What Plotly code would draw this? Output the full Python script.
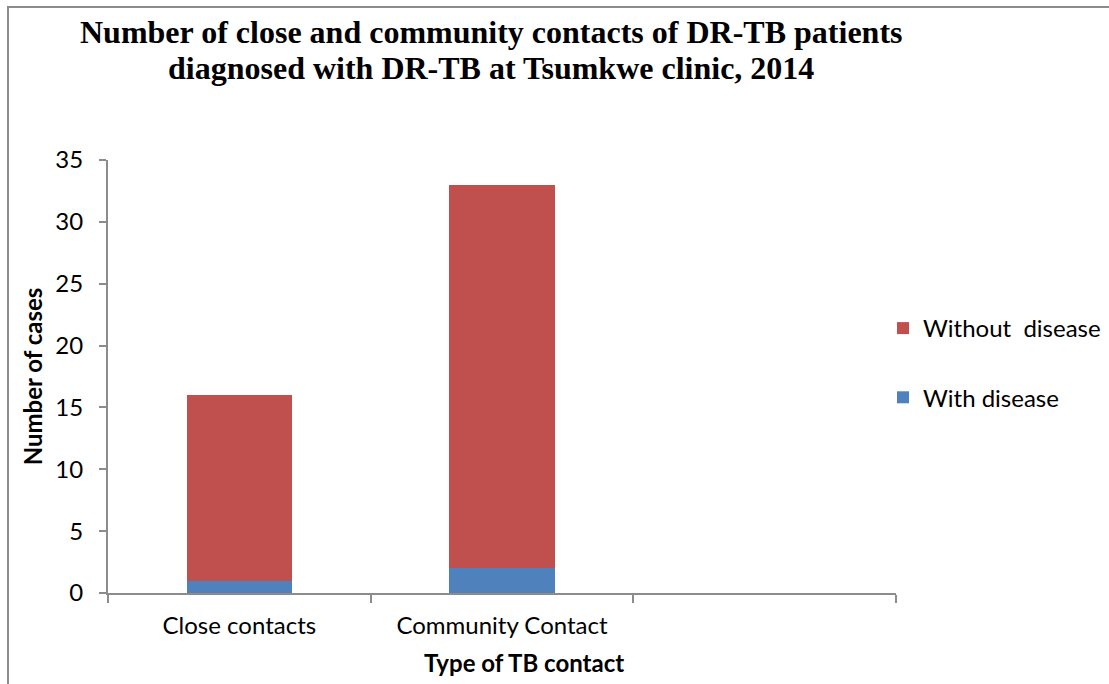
import plotly.graph_objects as go

# Contact types (third slot is left empty on the axis)
categories = ["Close contacts", "Community Contact", " "]
with_disease = [1, 2, None]
without_disease = [15, 31, None]

title_lines = [
    "Number of close and community contacts of DR-TB patients",
    "diagnosed with DR-TB at Tsumkwe clinic, 2014",
]

RED = "#C0504D"
BLUE = "#4F81BD"
AXIS = "#8C8C8C"
SANS = "Lato, 'Open Sans', sans-serif"
SERIF = "'Liberation Serif', 'Times New Roman', serif"

W, H = 1109, 684
L, R, T, B = 108, 896, 160, 593


def px_x(p):
    return (p - L) / (R - L)


def px_y(p):
    return (B - p) / (B - T)


fig = go.Figure()
fig.add_trace(go.Bar(
    x=categories, y=with_disease, name="With disease",
    marker=dict(color=BLUE, line=dict(width=0)),
    legendgroup="a", legendrank=2,
))
fig.add_trace(go.Bar(
    x=categories, y=without_disease, name="Without  disease",
    marker=dict(color=RED, line=dict(width=0)),
    legendgroup="b", legendrank=1,
))

fig.update_layout(
    width=W, height=H,
    margin=dict(l=L, r=W - R, t=T, b=H - B, pad=0, autoexpand=False),
    paper_bgcolor="white", plot_bgcolor="white",
    barmode="stack", bargap=0.6,
    font=dict(family=SANS, size=24, color="black"),
    legend=dict(
        x=px_x(883), xref="paper", xanchor="left",
        y=px_y(306), yref="paper", yanchor="top",
        traceorder="grouped", tracegroupgap=35,
        font=dict(family=SANS, size=24, color="black"),
        bgcolor="rgba(0,0,0,0)",
    ),
    showlegend=True,
)

# Two-line bold serif heading
for line, yc in zip(title_lines, [32, 68]):
    fig.add_annotation(
        text=f"<b>{line}</b>", showarrow=False,
        xref="paper", yref="paper", x=px_x(491), y=px_y(yc),
        xanchor="center", yanchor="middle",
        font=dict(family=SERIF, size=32, color="black"),
    )

# Horizontal axis title
fig.add_annotation(
    text="<b>Type of TB contact</b>", showarrow=False,
    xref="paper", yref="paper", x=px_x(524), y=px_y(662),
    xanchor="center", yanchor="middle",
    font=dict(family=SANS, size=24, color="black"),
)

fig.update_xaxes(
    type="category", range=[-0.5, 2.5], automargin=False,
    showline=True, linecolor=AXIS, linewidth=2,
    ticks="outside", tickson="boundaries", ticklen=8, tickcolor=AXIS, tickwidth=2,
    showgrid=False, zeroline=False,
    tickfont=dict(family=SANS, size=24),
    ticklabelstandoff=10,
)
fig.update_yaxes(
    range=[0, 35], dtick=5, automargin=False,
    showline=True, linecolor=AXIS, linewidth=2,
    ticks="outside", ticklen=7, tickcolor=AXIS, tickwidth=2,
    showgrid=False, zeroline=False,
    tickfont=dict(family=SANS, size=24),
    ticklabelstandoff=11,
    title=dict(text="<b>Number of cases</b>", font=dict(family=SANS, size=24), standoff=6),
)

# Outer frame of the chart area
fig.add_shape(
    type="rect", xref="paper", yref="paper",
    x0=px_x(8), x1=px_x(W + 20), y0=px_y(H + 20), y1=px_y(7),
    line=dict(color="#8C8C8C", width=2), fillcolor="rgba(0,0,0,0)", layer="below",
)

fig.write_html("out.html")
